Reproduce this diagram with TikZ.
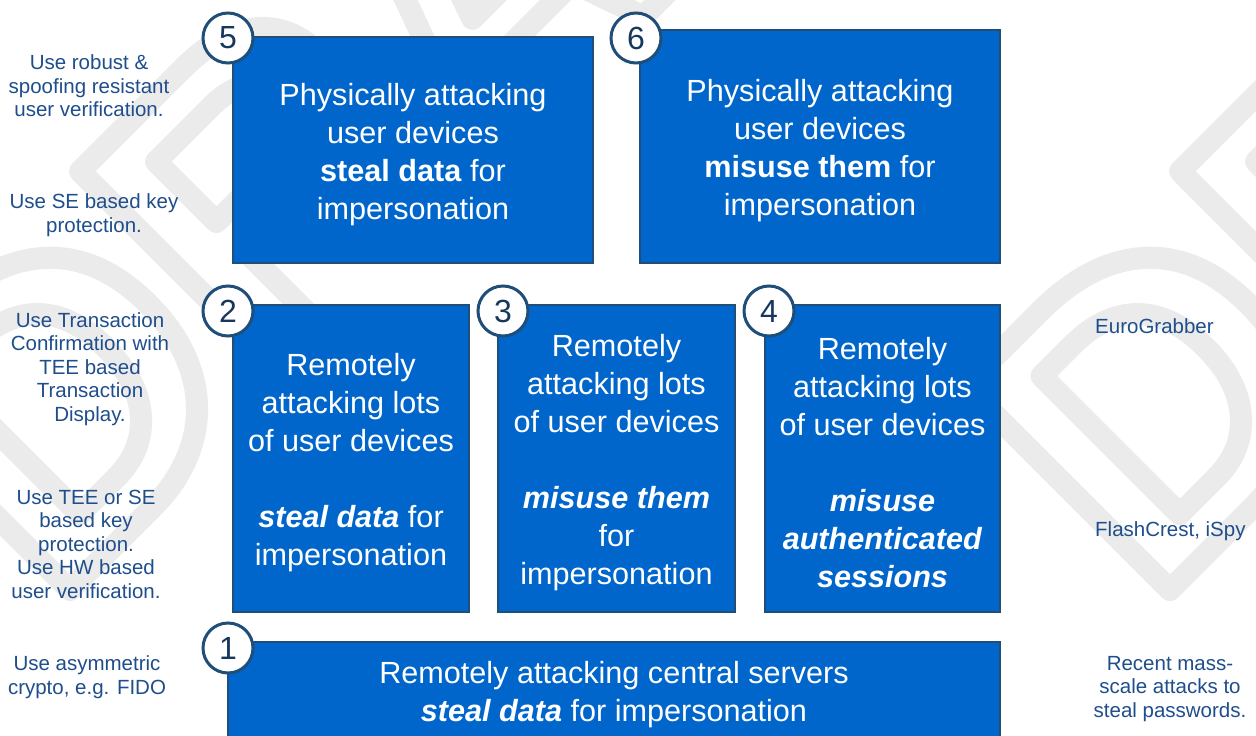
\documentclass[tikz,border=0pt]{standalone}
\usepackage{fontspec}
\setmainfont{Liberation Sans}
\usepackage{xcolor}
\definecolor{cBox}{HTML}{0066CC}
\definecolor{cEdge}{HTML}{1F4E79}
\definecolor{cNavy}{HTML}{17375E}
\definecolor{cNote}{HTML}{1F4E8C}
\definecolor{cMark}{HTML}{EBEBEB}
\usetikzlibrary{positioning}
\tikzset{
  attack-box/.style={draw=cEdge,line width=2pt,fill=cBox,text=white,
    align=center,inner sep=0pt,font=\fontsize{30.6}{38}\selectfont},
  step-badge/.style={draw=cEdge,line width=3pt,fill=white,circle,
    minimum size=50pt,inner sep=0pt,text=cNavy,font=\fontsize{32}{32}\selectfont},
  side-note/.style={text=cNote,align=center,inner sep=0pt,
    font=\fontsize{20.5}{23.5}\selectfont},
  water-mark/.style={text=cMark,inner sep=0pt,rotate=45,anchor=base west,
    font=\bfseries\fontsize{420}{420}\selectfont},
}
\newcommand{\bi}[1]{\textbf{\textit{#1}}}
\newcommand{\topgap}{\rule{0pt}{31pt}}
\newcommand{\outlined}[1]{\special{pdf:literal direct 1 Tr 1 j 1 J 22 w}#1\special{pdf:literal direct 0 Tr}}

\begin{document}
\begin{tikzpicture}[x=1pt,y=-1pt]
  \useasboundingbox[fill=white] (0,0) rectangle (1256,736);
  % watermark, outlined letters
  \node[water-mark] (draft-a) at (50,610) {\outlined{DRAFT}};
  \node[water-mark] (draft-b) at (1150,610) {\outlined{DRAFT}};

  % attack classes
  \node[attack-box,minimum width=360pt,minimum height=226pt] (phys-steal) at (413,150)
    {\topgap Physically attacking\\user devices\\\textbf{steal data} for\\impersonation};
  \node[attack-box,minimum width=360pt,minimum height=233pt] (phys-misuse) at (820,146.5)
    {\topgap Physically attacking\\user devices\\\textbf{misuse them} for\\impersonation};
  \node[attack-box,minimum width=236pt,minimum height=307pt] (remote-steal) at (351,458.5)
    {\topgap Remotely\\attacking lots\\of user devices\\[38pt]\bi{steal data} for\\impersonation};
  \node[attack-box,minimum width=237pt,minimum height=307pt] (remote-misuse) at (616.5,458.5)
    {\topgap Remotely\\attacking lots\\of user devices\\[38pt]\bi{misuse them}\\for\\impersonation};
  \node[attack-box,minimum width=235pt,minimum height=307pt] (remote-session) at (882.5,458.5)
    {\topgap Remotely\\attacking lots\\of user devices\\[38pt]\bi{misuse}\\\bi{authenticated}\\\bi{sessions}};
  \node[attack-box,minimum width=772pt,minimum height=96pt] (server-steal) at (614,690)
    {\topgap Remotely attacking central servers\\\bi{steal data} for impersonation};

  % numbers
  \node[step-badge] (s1) at (228,648) {1};
  \node[step-badge] (s2) at (228,311) {2};
  \node[step-badge] (s3) at (503,311) {3};
  \node[step-badge] (s4) at (769,311) {4};
  \node[step-badge] (s5) at (228,38) {5};
  \node[step-badge] (s6) at (636,38) {6};

  % countermeasures
  \node[side-note] (cm-verify) at (89,86) {Use robust \&\\spoofing resistant\\user verification.};
  \node[side-note] (cm-se) at (94,215) {Use SE based key\\protection.};
  \node[side-note] (cm-txn) at (90,369) {Use Transaction\\Confirmation with\\TEE based\\Transaction\\Display.};
  \node[side-note] (cm-tee) at (86,544) {Use TEE or SE\\based key\\protection.\\Use HW based\\user verification.};
  \node[side-note] (cm-fido) at (87,677) {Use asymmetric\\crypto, e.g. FIDO};

  % known attacks
  \node[side-note,anchor=west] (ex-euro) at (1095,326) {EuroGrabber};
  \node[side-note,anchor=west] (ex-flash) at (1095,531) {FlashCrest, iSpy};
  \node[side-note] (ex-mass) at (1170,689) {Recent mass-\\scale attacks to\\steal passwords.};
\end{tikzpicture}
\end{document}
